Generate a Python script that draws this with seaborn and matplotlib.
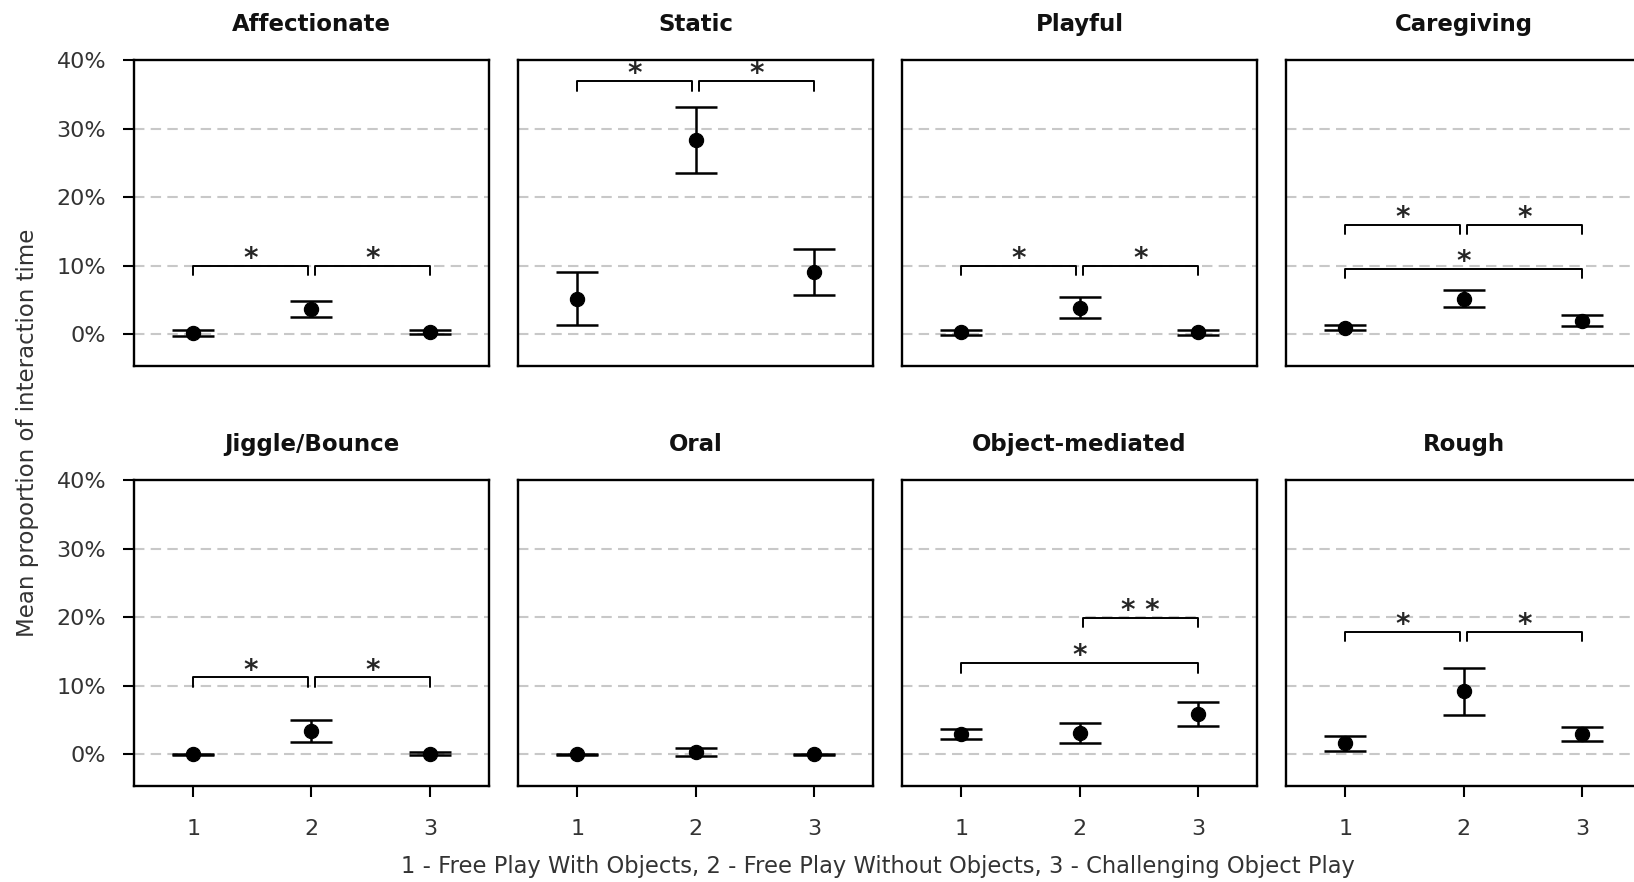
import numpy as np
import pandas as pd
import matplotlib
matplotlib.use("Agg")
import matplotlib.pyplot as plt
import seaborn as sns

# mean proportion of interaction time (%) per condition 1, 2, 3
behaviours = ["Affectionate", "Static", "Playful", "Caregiving",
              "Jiggle/Bounce", "Oral", "Object-mediated", "Rough"]
conditions = [1, 2, 3]
means = [[0.2, 3.7, 0.3], [5.2, 28.3, 9.1], [0.3, 3.9, 0.3], [1.0, 5.2, 2.0],
         [0.0, 3.4, 0.1], [0.0, 0.3, 0.0], [3.0, 3.1, 5.9], [1.6, 9.2, 3.0]]
errors = [[0.5, 1.1, 0.3], [3.9, 4.8, 3.4], [0.4, 1.55, 0.4], [0.4, 1.25, 0.85],
          [0.1, 1.65, 0.2], [0.1, 0.6, 0.1], [0.75, 1.4, 1.75], [1.1, 3.4, 1.0]]

# significance brackets
bracket_panel = ["Affectionate", "Affectionate", "Static", "Static",
                 "Playful", "Playful", "Caregiving", "Caregiving", "Caregiving",
                 "Jiggle/Bounce", "Jiggle/Bounce", "Object-mediated", "Object-mediated",
                 "Rough", "Rough"]
bracket_from = [1, 2, 1, 2, 1, 2, 1, 2, 1, 1, 2, 2, 1, 1, 2]
bracket_to = [2, 3, 2, 3, 2, 3, 2, 3, 3, 2, 3, 3, 3, 2, 3]
bracket_height = [10, 10, 36.9, 36.9, 10, 10, 16, 16, 9.6, 11.2, 11.2, 19.9, 13.3, 17.9, 17.9]
bracket_label = ["*", "*", "*", "*", "*", "*", "*", "*", "*", "*", "*", "* *", "*", "*", "*"]

ytick_values = [0, 10, 20, 30, 40]
ytick_labels = ["0%", "10%", "20%", "30%", "40%"]

sns.set_theme(style="white")
plt.rcParams['font.family'] = ['DejaVu Sans']

rows = []
for b, m, e in zip(behaviours, means, errors):
    for c, mv, ev in zip(conditions, m, e):
        rows.append({'behaviour': b, 'condition': c, 'mean': mv, 'err': ev})
df = pd.DataFrame(rows)

br = pd.DataFrame({'panel': bracket_panel, 'x1': bracket_from, 'x2': bracket_to,
                   'y': bracket_height, 'label': bracket_label})

fig, axes = plt.subplots(2, 4, figsize=(16.34, 8.82), dpi=100,
                         gridspec_kw=dict(left=0.082, right=1.0043, top=0.932, bottom=0.109,
                                          wspace=0.0817, hspace=0.3725))

for i, (ax, name) in enumerate(zip(axes.flat, behaviours)):
    sub = df[df.behaviour == name]
    for yv in ytick_values[:-1]:
        ax.axhline(yv, color='#c8c8c8', lw=1.5, ls=(0, (5, 3)), zorder=1)
    ax.errorbar(sub.condition, sub['mean'], yerr=sub['err'], fmt='none', ecolor='black',
                elinewidth=1.8, capsize=15, capthick=1.8, zorder=3)
    sns.scatterplot(data=sub, x='condition', y='mean', ax=ax, color='black', s=105,
                    edgecolor='black', zorder=4, legend=False)

    # brackets
    for _, b in br[br.panel == name].iterrows():
        x1, x2 = b.x1, b.x2
        if x2 - x1 == 1:
            if x1 == 2:
                x1 += 0.03
            else:
                x2 -= 0.03
        drop = 1.4
        ax.plot([x1, x1, x2, x2], [b.y - drop, b.y, b.y, b.y - drop], color='black', lw=1.4, zorder=3)
        ax.annotate(b.label, xy=((x1 + x2) / 2, b.y), xytext=(0, 5), textcoords='offset points',
                    ha='center', va='center', fontsize=20, fontweight='bold')

    ax.set_xlim(0.5, 3.5)
    ax.set_ylim(-4.6, 40)
    ax.set_xticks(conditions)
    ax.set_yticks(ytick_values)
    ax.set_yticklabels(ytick_labels)
    ax.set_xlabel("")
    ax.set_ylabel("")
    ax.set_title(name, fontweight='bold', fontsize=16.5, pad=21, color='#111111')
    for sp in ax.spines.values():
        sp.set_visible(True)
        sp.set_color('black')
        sp.set_linewidth(1.7)
    ax.tick_params(axis='both', length=8, width=1.5, color='black', labelsize=16, labelcolor='#333333')
    ax.tick_params(axis='y', pad=12)
    ax.tick_params(axis='x', pad=16)
    if i < 4:
        ax.tick_params(axis='x', bottom=False, labelbottom=False)
    else:
        ax.tick_params(axis='x', bottom=True)
    if i % 4 != 0:
        ax.tick_params(axis='y', left=False, labelleft=False)
    else:
        ax.tick_params(axis='y', left=True)

fig.text(28 / 1634, 1 - 433 / 882, "Mean proportion of interaction time", rotation=90,
         ha='center', va='center', fontsize=16.5, color='#333333')
fig.text(878 / 1634, 1 - 866 / 882,
         "1 - Free Play With Objects, 2 - Free Play Without Objects, 3 - Challenging Object Play",
         ha='center', va='center', fontsize=16.3, color='#333333')

fig.savefig("out.png", dpi=100)
